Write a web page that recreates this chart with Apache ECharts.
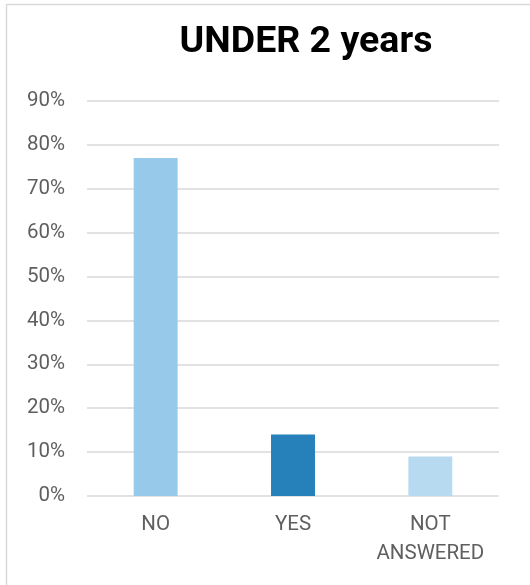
<!DOCTYPE html>
<html><head><meta charset="utf-8">
<script src="https://cdn.jsdelivr.net/npm/echarts@6/dist/echarts.min.js"></script>
<style>html,body{margin:0;padding:0;background:#fff}#c{width:530px;height:585px}</style>
</head><body><div id="c"></div>
<script>
const title = 'UNDER 2 years';
const categories = ['NO', 'YES', 'NOT\nANSWERED'];
const values = [77, 14, 9];
const barColors = ['#97CAEA', '#2680BA', '#B7DAF0'];
const yTicks = [0, 10, 20, 30, 40, 50, 60, 70, 80, 90];

const chart = echarts.init(document.getElementById('c'), null, {renderer: 'canvas'});
chart.setOption({
  animation: false,
  backgroundColor: '#fff',
  graphic: [{type: 'rect', shape: {x: 6.5, y: 4.5, width: 600, height: 700}, style: {fill: 'none', stroke: '#d9d9d9', lineWidth: 1.5}}],
  title: {text: title, left: 301, textAlign: 'center', top: 19,
    textStyle: {fontFamily: 'Roboto', fontWeight: 'bold', fontSize: 37.5, color: '#000'}},
  grid: {left: 87, right: 31, top: 101, bottom: 89},
  xAxis: {type: 'category', data: categories,
    axisLine: {show: false}, axisTick: {show: false},
    axisLabel: {interval: 0, hideOverlap: false, color: '#5f5f5f', fontSize: 20.5, fontFamily: 'Roboto', margin: 14, lineHeight: 29}},
  yAxis: {type: 'value', min: 0, max: 90, interval: 10,
    axisLine: {show: false}, axisTick: {show: false},
    splitLine: {lineStyle: {color: '#d9d9d9', width: 1.5}},
    axisLabel: {color: '#5f5f5f', fontSize: 20.5, fontFamily: 'Roboto', margin: 22,
      formatter: v => yTicks.includes(v) ? v + '%' : ''}},
  series: [{type: 'bar', barWidth: '32%',
    data: values.map((v, i) => ({value: v, itemStyle: {color: barColors[i]}}))}]
});
</script></body></html>
